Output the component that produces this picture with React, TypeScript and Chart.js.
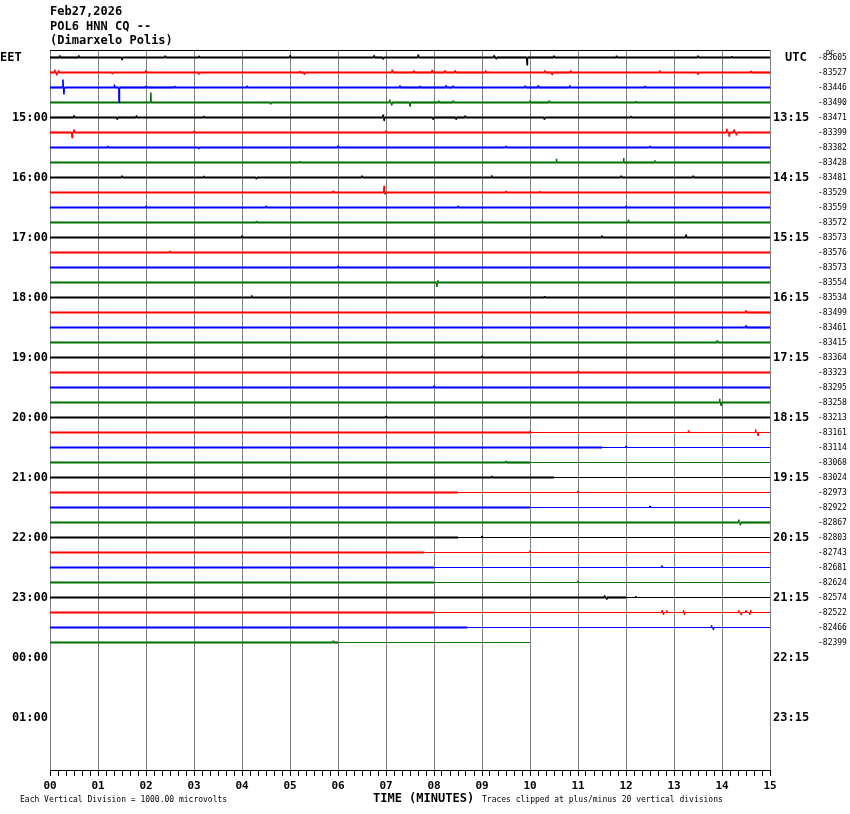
import React, { useEffect, useRef } from "react";
import { Chart, registerables } from "chart.js";

Chart.register(...registerables);

const TITLE_LINES = ["Feb27,2026", "POL6 HNN CQ --", "(Dimarxelo Polis)"];
const ROW_COUNT = 48;
const MINUTES = 15;
const X_TICK_LABELS = ["00", "01", "02", "03", "04", "05", "06", "07", "08", "09", "10", "11", "12", "13", "14", "15"];
const LEFT_LABELS = ["EET", "15:00", "16:00", "17:00", "18:00", "19:00", "20:00", "21:00", "22:00", "23:00", "00:00", "01:00"];
const RIGHT_LABELS = ["UTC", "13:15", "14:15", "15:15", "16:15", "17:15", "18:15", "19:15", "20:15", "21:15", "22:15", "23:15"];
const TRACE_COLORS = ["#000000", "#ff0000", "#0000ff", "#007000"];
const DC_VALUES = [
  "-83605", "-83527", "-83446", "-83490", "-83471", "-83399", "-83382", "-83428",
  "-83481", "-83529", "-83559", "-83572", "-83573", "-83576", "-83573", "-83554",
  "-83534", "-83499", "-83461", "-83415", "-83364", "-83323", "-83295", "-83258",
  "-83213", "-83161", "-83114", "-83068", "-83024", "-82973", "-82922", "-82867",
  "-82803", "-82743", "-82681", "-82624", "-82574", "-82522", "-82466", "-82399",
];
const TRACE_END = [
  15, 15, 15, 15, 15, 15, 15, 15, 15, 15, 15, 15, 15, 15, 15, 15,
  15, 15, 15, 15, 15, 15, 15, 15, 15, 15, 15, 15, 15, 15, 15, 15,
  15, 15, 15, 15, 15, 15, 15, 10,
];
const QUIET_FROM = [
  15, 15, 15, 15, 15, 15, 15, 15, 15, 15, 15, 15, 15, 15, 15, 15,
  15, 15, 15, 15, 15, 15, 15, 15, 15, 10, 11.5, 10, 10.5, 8.5, 10, 15,
  8.5, 7.8, 8, 8, 12, 8, 8.7, 6,
];
// [minute, amplitude in row units, up positive]
const SPIKES: number[][][] = [
  [[0.2, 0.15], [0.6, 0.15], [1.5, -0.15], [2.4, 0.12], [3.1, 0.12], [5.0, 0.15], [6.75, 0.15], [6.94, -0.1], [7.67, 0.2], [9.25, 0.15], [9.3, -0.12], [9.94, -0.5], [10.5, 0.12], [11.8, 0.13], [13.5, 0.12], [14.2, 0.1]],
  [[0.1, 0.2], [0.14, -0.2], [0.18, 0.15], [1.3, -0.12], [2.0, 0.15], [3.1, -0.15], [5.2, 0.12], [5.3, -0.15], [7.13, 0.2], [7.58, 0.15], [7.96, 0.18], [8.23, 0.15], [8.44, 0.15], [9.08, 0.15], [10.31, 0.15], [10.46, -0.15], [10.85, 0.15], [12.7, 0.15], [13.5, -0.12], [14.6, 0.12]],
  [[0.27, 0.53], [0.29, -0.47], [1.34, 0.2], [1.44, -1.0], [2.0, 0.1], [2.6, 0.1], [4.1, 0.12], [7.29, 0.15], [7.7, 0.12], [8.25, 0.15], [8.4, 0.12], [9.9, 0.12], [10.17, 0.15], [10.83, 0.15], [12.4, 0.1]],
  [[2.1, 0.67], [4.6, -0.12], [7.08, 0.2], [7.12, -0.2], [7.5, -0.25], [8.1, 0.12], [8.4, 0.12], [10.0, 0.12], [10.4, 0.12], [12.2, 0.1]],
  [[0.5, 0.15], [1.4, -0.12], [1.8, 0.15], [3.2, 0.12], [6.94, 0.2], [6.96, -0.2], [7.98, -0.12], [8.46, -0.12], [8.65, 0.12], [10.3, -0.15], [12.1, 0.1]],
  [[0.46, -0.35], [0.5, 0.2], [3.0, 0.1], [7.0, 0.12], [14.1, 0.25], [14.15, -0.25], [14.25, 0.2], [14.3, -0.2]],
  [[1.2, 0.12], [3.1, -0.1], [6.0, 0.12], [9.5, 0.1], [12.5, 0.1]],
  [[5.2, 0.1], [10.55, 0.25], [11.95, 0.3], [12.6, 0.15]],
  [[1.5, 0.12], [3.2, 0.12], [4.3, -0.12], [6.5, 0.12], [9.2, 0.15], [11.9, 0.12], [13.4, 0.12]],
  [[5.9, 0.12], [6.96, 0.45], [6.98, -0.1], [9.5, 0.1], [10.2, 0.1]],
  [[2.0, 0.1], [4.5, 0.1], [8.5, 0.1], [12.0, 0.1]],
  [[4.3, 0.12], [9.0, 0.1], [12.05, 0.2]],
  [[4.0, 0.12], [11.5, 0.12], [13.25, 0.2]],
  [[2.5, 0.1]],
  [[6.0, 0.1]],
  [[8.06, -0.3], [8.08, 0.15]],
  [[4.2, 0.15], [10.3, 0.1]],
  [[14.5, 0.15]],
  [[14.5, 0.15]],
  [[13.9, 0.15]],
  [[9.0, 0.1]],
  [[11.0, 0.1]],
  [[8.0, 0.12]],
  [[13.95, 0.25], [13.98, -0.2]],
  [[7.0, 0.1]],
  [[10.0, 0.12], [13.3, 0.15], [14.7, 0.2], [14.75, -0.2]],
  [[12.0, 0.1]],
  [[9.5, 0.1]],
  [[9.2, 0.12]],
  [[11.0, 0.1]],
  [[12.5, 0.1]],
  [[14.35, 0.2], [14.38, -0.15]],
  [[9.0, 0.1]],
  [[10.0, 0.1]],
  [[12.75, 0.12]],
  [[11.0, 0.1]],
  [[11.55, 0.15], [11.6, -0.15], [12.2, 0.1]],
  [[12.75, 0.15], [12.78, -0.15], [12.85, 0.15], [13.2, 0.15], [13.22, -0.15], [14.35, 0.15], [14.4, -0.15], [14.5, 0.15], [14.58, -0.15], [14.6, 0.15]],
  [[13.78, 0.15], [13.82, -0.15]],
  [[5.9, 0.12]],
];

const MONO = "'DejaVu Sans Mono', 'Liberation Mono', monospace";

function buildDatasets() {
  return DC_VALUES.map((_, r) => {
    const end = TRACE_END[r];
    const quiet = QUIET_FROM[r];
    const pts: { x: number; y: number }[] = [{ x: 0, y: r }, { x: end, y: r }];
    if (quiet < end) pts.push({ x: quiet, y: r });
    const d = 0.006;
    SPIKES[r].forEach(([t, a]) => {
      pts.push({ x: t - d, y: r });
      pts.push({ x: t, y: r - a });
      pts.push({ x: t + d, y: r });
    });
    pts.sort((p, q) => p.x - q.x);
    return {
      data: pts,
      borderColor: TRACE_COLORS[r % 4],
      borderWidth: 2,
      borderJoinStyle: "bevel",
      borderCapStyle: "butt",
      pointRadius: 0,
      tension: 0,
      fill: false,
      segment: {
        borderWidth: (ctx: any) => {
          if (Math.abs(ctx.p0.parsed.y - ctx.p1.parsed.y) > 1e-9) return 1.6;
          return ctx.p0.parsed.x >= quiet - 1e-9 ? 1 : 2.2;
        },
      },
    };
  });
}

const textPlugin = {
  id: "heliText",
  afterDraw(chart: any) {
    const { ctx, chartArea, scales } = chart;
    const y = scales.y;
    ctx.save();
    ctx.strokeStyle = "#000";
    ctx.lineWidth = 1;
    ctx.beginPath();
    ctx.moveTo(chartArea.left, Math.floor(chartArea.top) + 0.5);
    ctx.lineTo(chartArea.right, Math.floor(chartArea.top) + 0.5);
    ctx.stroke();

    ctx.fillStyle = "#000";
    ctx.textBaseline = "middle";
    ctx.font = `bold 12px ${MONO}`;
    ctx.textAlign = "left";
    TITLE_LINES.forEach((t, i) => ctx.fillText(t, 50, 12 + i * 14.5));

    LEFT_LABELS.forEach((t, i) => {
      const py = y.getPixelForValue(i * 4) + 0.5;
      if (i === 0) {
        ctx.textAlign = "left";
        ctx.fillText(t, 0, py);
      } else {
        ctx.textAlign = "right";
        ctx.fillText(t, 48, py);
      }
    });
    ctx.textAlign = "left";
    RIGHT_LABELS.forEach((t, i) => {
      const py = y.getPixelForValue(i * 4) + 0.5;
      ctx.fillText(t, i === 0 ? 785 : 773, py);
    });

    ctx.font = `8px ${MONO}`;
    DC_VALUES.forEach((t, r) => {
      ctx.fillText(t, 818, y.getPixelForValue(r) + 0.5);
    });
    ctx.font = `7px ${MONO}`;
    ctx.fillText("DC", 826, 53);

    ctx.font = `bold 12px ${MONO}`;
    ctx.fillText("TIME (MINUTES)", 373, 799);
    ctx.font = `8px ${MONO}`;
    ctx.fillText("Each Vertical Division = 1000.00 microvolts", 20, 800);
    ctx.fillText("Traces clipped at plus/minus 20 vertical divisions", 482, 800);
    ctx.restore();
  },
};

export default function App() {
  const ref = useRef<HTMLCanvasElement | null>(null);
  useEffect(() => {
    document.body.style.margin = "0";
    if (!ref.current) return;
    const isInt = (v: number) => Math.abs(v - Math.round(v)) < 1e-6;
    const chart = new Chart(ref.current, {
      type: "line",
      data: { datasets: buildDatasets() as any },
      options: {
        animation: false,
        responsive: false,
        layout: { padding: { left: 50, right: 80, top: 50, bottom: 0 } },
        plugins: { legend: { display: false }, tooltip: { enabled: false } },
        elements: { point: { radius: 0 } },
        scales: {
          x: {
            type: "linear",
            min: 0,
            max: MINUTES,
            afterBuildTicks: (s: any) => {
              const ticks = [];
              for (let m = 0; m < MINUTES; m++) {
                for (let k = 0; k < 6; k++) ticks.push({ value: m + k / 6 });
              }
              ticks.push({ value: MINUTES });
              s.ticks = ticks;
            },
            afterFit: (s: any) => {
              s.height = 44;
            },
            ticks: {
              autoSkip: false,
              maxRotation: 0,
              padding: 4,
              color: "#000",
              font: { family: MONO, size: 11, weight: "bold" },
              callback: (v: any) => (isInt(Number(v)) ? X_TICK_LABELS[Math.round(Number(v))] : ""),
            },
            grid: {
              color: (c: any) => (c.tick && isInt(c.tick.value) ? "#808080" : "rgba(0,0,0,0)"),
              tickColor: "#000",
              tickLength: 6,
              lineWidth: 1,
            },
            border: { color: "#000", width: 1 },
          },
          y: {
            type: "linear",
            display: false,
            reverse: true,
            min: -0.5,
            max: ROW_COUNT - 0.5,
          },
        },
      },
      plugins: [textPlugin],
    });
    return () => chart.destroy();
  }, []);
  return <canvas ref={ref} width={850} height={814} style={{ display: "block" }} />;
}
